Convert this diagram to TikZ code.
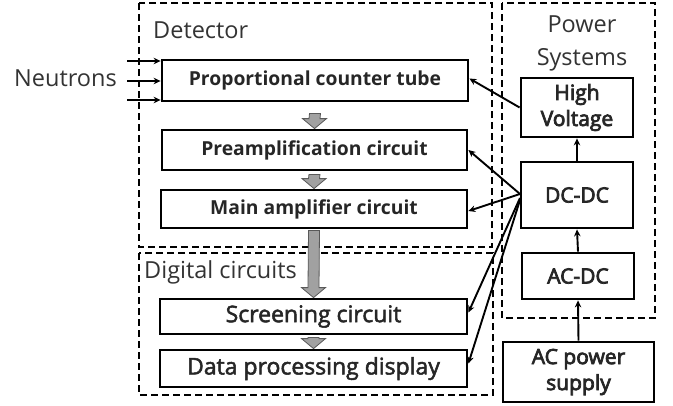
\documentclass[tikz,border=0pt]{standalone}
\usepackage{fontspec}
\setmainfont{Open Sans}
\newfontfamily\medfont[FakeBold=2.2]{Open Sans}
\newfontfamily\semifont[FakeBold=3.6]{Open Sans}
\usetikzlibrary{calc,arrows.meta}
\newcommand\blkarrow[3]{% start coordinate, end coordinate (tip), yshift of start
  \filldraw[blkarr]
    ([xshift=-5.5pt,yshift=-#3]#1) -- ([xshift=-5.5pt,yshift=10pt]#2)
    -- ([xshift=-12pt,yshift=10pt]#2) -- (#2) -- ([xshift=12pt,yshift=10pt]#2)
    -- ([xshift=5.5pt,yshift=10pt]#2) -- ([xshift=5.5pt,yshift=-#3]#1) -- cycle;}
\begin{document}
\begin{tikzpicture}[x=1pt,y=-1pt,
  box/.style={draw,line width=2.8pt,inner sep=0pt,align=center,text=black!85},
  grp/.style={draw,line width=2pt,dash pattern=on 7pt off 4pt},
  lbl/.style={inner sep=0pt,text=black!80,font=\fontsize{23.5}{33}\selectfont},
  bt/.style={font=\fontsize{19.3}{22}\selectfont\bfseries},
  bl/.style={font=\fontsize{23}{26}\selectfont\medfont},
  pw/.style={font=\fontsize{21}{26}\selectfont\semifont},
  conn/.style={line width=1.9pt,-{Stealth[length=7pt,width=6.5pt]}},
  blkarr/.style={fill=black!37,draw=black!65,line width=0.8pt}]
\useasboundingbox (0,0) rectangle (673,405);
% groups
\draw[grp] (139,3) rectangle (492,247);
\draw[grp] (139,253) rectangle (493,395);
\draw[grp] (502,3) rectangle (655,318);
\node[lbl,anchor=west] (tdet) at (153,30) {Detector};
\node[lbl,anchor=west] (tdig) at (144,272) {Digital circuits};
\node[lbl,align=center] (tpow) at (582,43) {Power\\Systems};
\node[lbl,anchor=east] (tneu) at (117,78) {Neutrons};
% boxes
\node[box,bt,minimum width=306pt,minimum height=41pt] (prop) at (315,80.5) {Proportional counter tube};
\node[box,bt,minimum width=305pt,minimum height=40pt] (pre) at (314.5,150) {Preamplification circuit};
\node[box,bt,minimum width=306pt,minimum height=38pt] (main) at (314,209) {Main amplifier circuit};
\node[box,bl,minimum width=307pt,minimum height=35pt] (scr) at (313.5,316.5) {Screening circuit};
\node[box,bl,minimum width=307pt,minimum height=37pt] (data) at (313.5,368.5) {Data processing display};
\node[box,pw,minimum width=112pt,minimum height=59pt] (hv) at (577,107.5) {High\\Voltage};
\node[box,pw,minimum width=112pt,minimum height=66pt] (dcdc) at (577,195) {DC-DC};
\node[box,pw,minimum width=112pt,minimum height=46pt] (acdc) at (578,276) {AC-DC};
\node[box,pw,minimum width=151pt,minimum height=60pt] (acps) at (578.5,372) {AC power\\supply};
% block arrows
\blkarrow{prop.south}{pre.north}{11pt}
\blkarrow{pre.south}{main.north}{3pt}
\blkarrow{main.south}{scr.north}{1pt}
\blkarrow{scr.south}{data.north}{2pt}
% neutron arrows
\coordinate (n1) at (127,61);
\coordinate (n2) at (127,81);
\coordinate (n3) at (127,100);
\draw[conn] (n1) -- (n1 -| prop.west);
\draw[conn] (n2) -- (n2 -| prop.west);
\draw[conn] (n3) -- (n3 -| prop.west);
% power connectors
\coordinate (hub) at (520,194);
\draw[conn] (hv.west) -- ([yshift=2pt]prop.east);
\draw[conn] (hub) -- (pre.east);
\draw[conn] (hub) -- ([yshift=-2pt]main.east);
\draw[conn] ([yshift=-4pt]hub) -- ([yshift=4pt]scr.east);
\draw[conn] ([yshift=-6pt]hub) -- ([yshift=5pt]data.east);
\draw[conn] (dcdc.north) -- (hv.south);
\draw[conn] (acdc.north) -- (dcdc.south);
\draw[conn] (acps.north) -- (acdc.south);
\end{tikzpicture}
\end{document}
